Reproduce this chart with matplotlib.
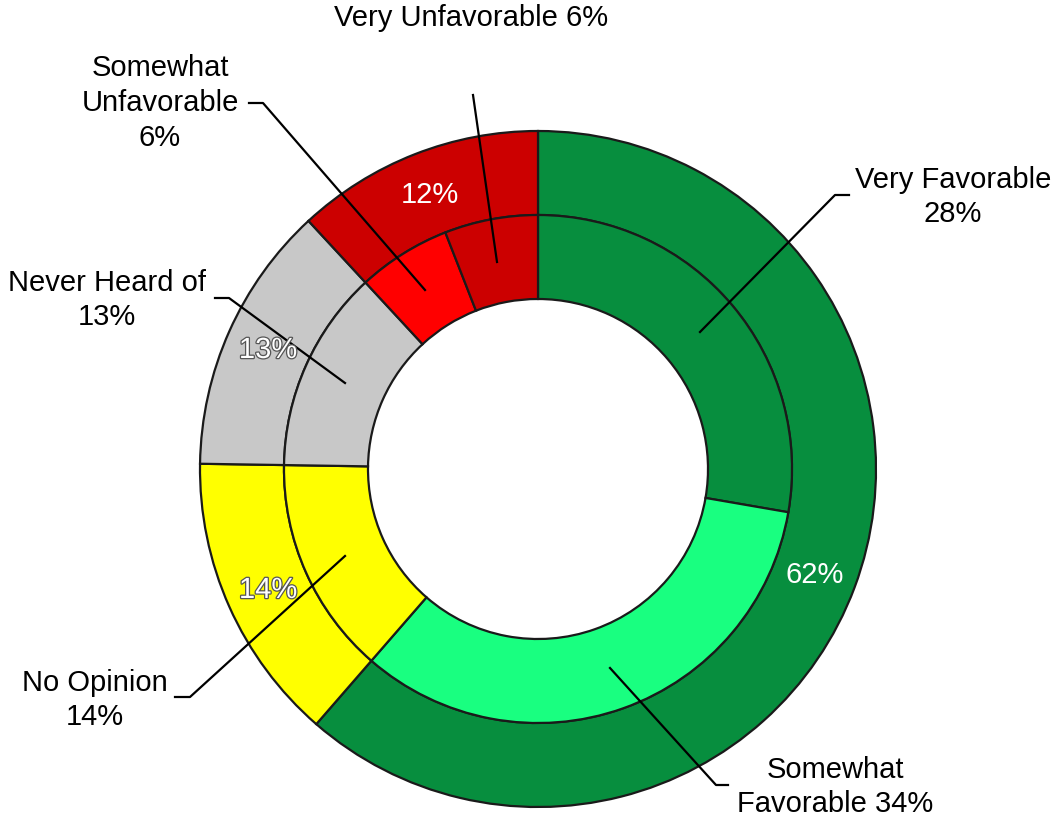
import matplotlib.pyplot as plt
import matplotlib.patheffects as pe

# data
outer_labels = ['Favorable', 'No Opinion', 'Never Heard of', 'Unfavorable']
outer_values = [62, 14, 13, 12]
outer_colors = ['#078E3E', '#FFFF00', '#C8C8C8', '#CC0000']

inner_labels = ['Very Favorable', 'Somewhat Favorable', 'No Opinion',
                'Never Heard of', 'Somewhat Unfavorable', 'Very Unfavorable']
inner_values = [28, 34, 14, 13, 6, 6]
inner_colors = ['#078E3E', '#19FF80', '#FFFF00', '#C8C8C8', '#FF0000', '#CC0000']

plt.rcParams['font.family'] = ['Liberation Sans', 'DejaVu Sans']

H = 821
fig = plt.figure(figsize=(10.63, 8.21), dpi=100)
ax = fig.add_axes([0, 0, 1, 1])

cx, cy = 538, H - 469
edge = dict(edgecolor='#1a1a1a', linewidth=1.6)

ax.pie(outer_values, radius=338, center=(cx, cy), startangle=90, counterclock=False,
       colors=outer_colors, wedgeprops=dict(width=84, **edge))
ax.pie(inner_values, radius=254, center=(cx, cy), startangle=90, counterclock=False,
       colors=inner_colors, wedgeprops=dict(width=84, **edge))

ax.set_xlim(0, 1063)
ax.set_ylim(0, H)
ax.set_aspect('equal')
ax.axis('off')

# value labels on outer ring
outline = [pe.Stroke(linewidth=1.8, foreground='#555555'), pe.Normal()]
ring_text = [
    ('62%', 815, 575, None),
    ('14%', 268, 590, outline),
    ('13%', 268, 350, outline),
    ('12%', 430, 195, None),
]
for txt, x, y, eff in ring_text:
    ax.text(x, H - y, txt, color='white', fontsize=21, ha='center', va='center',
            path_effects=eff)

# callouts: text, text pos, line points (pixel coords)
callouts = [
    ('Very Unfavorable 6%', (471, 18), [(497, 262), (473, 95)]),
    ('Somewhat\nUnfavorable\n6%', (160, 103), [(425, 290), (263, 103), (249, 103)]),
    ('Never Heard of\n13%', (107, 300), [(345, 383), (229, 298), (215, 298)]),
    ('No Opinion\n14%', (95, 700), [(345, 556), (190, 697), (175, 697)]),
    ('Somewhat\nFavorable 34%', (835, 787), [(610, 668), (716, 785), (728, 785)]),
    ('Very Favorable\n28%', (953, 197), [(700, 332), (835, 195), (849, 195)]),
]
for txt, (tx, ty), pts in callouts:
    ax.text(tx, H - ty, txt, fontsize=21, ha='center', va='center',
            linespacing=1.3, color='black')
    xs = [p[0] for p in pts]
    ys = [H - p[1] for p in pts]
    ax.plot(xs, ys, color='black', linewidth=1.6)

fig.savefig('out.png', dpi=100, facecolor='white')
